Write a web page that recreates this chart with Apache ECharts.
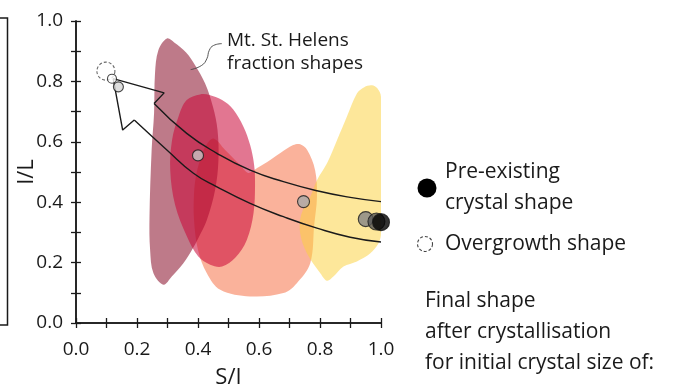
<!DOCTYPE html>
<html>
<head>
<meta charset="utf-8">
<script src="https://cdn.jsdelivr.net/npm/echarts@6/dist/echarts.min.js"></script>
<style>
  html, body { margin: 0; padding: 0; background: #fff; }
  #chart { width: 673px; height: 388px; }
</style>
</head>
<body>
<div id="chart"></div>
<script>
// Axis ticks (S/I on x, I/L on y)
const tickValues = [0.0, 0.2, 0.4, 0.6, 0.8, 1.0];
const tickLabels = ['0.0', '0.2', '0.4', '0.6', '0.8', '1.0'];

// Mt. St. Helens fraction shape fields, outlines as [S/I, I/L]
const fieldMauve = [
  [0.298, 0.942], [0.322, 0.929], [0.361, 0.896], [0.391, 0.853], [0.423, 0.794],
  [0.449, 0.716], [0.464, 0.639], [0.467, 0.539], [0.456, 0.440], [0.429, 0.341],
  [0.401, 0.281], [0.380, 0.242], [0.352, 0.198], [0.314, 0.154], [0.287, 0.127],
  [0.254, 0.165], [0.243, 0.242], [0.241, 0.352], [0.248, 0.573], [0.256, 0.695],
  [0.259, 0.826], [0.270, 0.903]
];
const fieldCrimson = [
  [0.407, 0.757], [0.440, 0.754], [0.479, 0.738], [0.515, 0.708], [0.549, 0.650],
  [0.571, 0.589], [0.584, 0.523], [0.587, 0.457], [0.582, 0.363], [0.560, 0.275],
  [0.522, 0.216], [0.479, 0.187], [0.440, 0.193], [0.401, 0.220], [0.363, 0.288],
  [0.325, 0.391], [0.309, 0.506], [0.315, 0.606], [0.336, 0.683], [0.363, 0.738]
];
const fieldSalmon = [
  [0.451, 0.611], [0.489, 0.573], [0.538, 0.523], [0.565, 0.497], [0.594, 0.513],
  [0.627, 0.533], [0.670, 0.563], [0.712, 0.589], [0.735, 0.592], [0.758, 0.573],
  [0.784, 0.506], [0.790, 0.418], [0.781, 0.325], [0.768, 0.198], [0.724, 0.132],
  [0.680, 0.099], [0.571, 0.088], [0.473, 0.110], [0.429, 0.165], [0.400, 0.242],
  [0.387, 0.341], [0.387, 0.430], [0.394, 0.490], [0.407, 0.540], [0.427, 0.589]
];
const fieldYellow = [
  [0.970, 0.787], [0.988, 0.777], [1.000, 0.748], [1.000, 0.298], [0.992, 0.264],
  [0.965, 0.231], [0.921, 0.204], [0.877, 0.187], [0.844, 0.154], [0.823, 0.140],
  [0.801, 0.165], [0.757, 0.231], [0.735, 0.297], [0.738, 0.358], [0.768, 0.418],
  [0.790, 0.473], [0.823, 0.529], [0.856, 0.606], [0.888, 0.683], [0.921, 0.760],
  [0.945, 0.781]
];

// Growth-path band: upper and lower bounding curves, and the arrow head
const bandUpper = [
  [0.256, 0.727], [0.363, 0.628], [0.462, 0.562], [0.571, 0.506], [0.680, 0.468],
  [0.790, 0.438], [0.899, 0.416], [1.000, 0.402]
];
const bandLower = [
  [0.191, 0.672], [0.298, 0.573], [0.385, 0.496], [0.462, 0.451], [0.571, 0.396],
  [0.680, 0.352], [0.790, 0.314], [0.899, 0.284], [1.000, 0.268]
];
const arrowHead = [
  [0.191, 0.672], [0.153, 0.639], [0.122, 0.809], [0.289, 0.762], [0.256, 0.727]
];

// Leader from the label to the shape fields
const leader = [
  [0.478, 0.925], [0.451, 0.919], [0.437, 0.903], [0.429, 0.875], [0.412, 0.853], [0.376, 0.839]
];

// Final shapes for each initial crystal size, and the overgrowth shape
const finalShapes = [
  [0.118, 0.809], [0.139, 0.782], [0.400, 0.555], [0.746, 0.402],
  [0.950, 0.344], [0.985, 0.336], [1.000, 0.334]
];
const finalSizes = [9, 10, 11, 12, 15, 17, 17];
const finalFills = ['#ffffff', '#d6d6d6', '#c4c4c4', '#a9a9a9', '#858585', '#555555', '#000000'];
const overgrowth = [[0.098, 0.834]];

const FONT = '"Open Sans", "Noto Sans", sans-serif';
const INK = '#1a1a1a';

function field(name, pts, fill, z) {
  return {
    type: 'custom',
    name: name,
    coordinateSystem: 'cartesian2d',
    data: pts,
    clip: true,
    silent: true,
    z: z,
    renderItem: function (params, api) {
      if (params.dataIndex !== 0) return null;
      return {
        type: 'polygon',
        shape: { points: pts.map(function (p) { return api.coord(p); }), smooth: 0.35 },
        style: { fill: fill }
      };
    }
  };
}

function curve(data, smooth, width, color) {
  return {
    type: 'line', data: data, smooth: smooth, symbol: 'none', silent: true, z: 5,
    lineStyle: { color: color || INK, width: width || 1.4 }
  };
}

const tickFmt = function (v) {
  const i = tickValues.findIndex(function (t) { return Math.abs(t - v) < 1e-6; });
  return i >= 0 ? tickLabels[i] : '';
};

const axisCommon = {
  type: 'value', min: 0, max: 1, interval: 0.1,
  axisLine: { show: true, lineStyle: { color: INK, width: 1.5 } },
  axisTick: { show: true, length: 5, lineStyle: { color: INK, width: 1.3 } },
  splitLine: { show: false }
};

const chart = echarts.init(document.getElementById('chart'), null, { renderer: 'canvas' });
chart.setOption({
  animation: false,
  backgroundColor: '#ffffff',
  grid: { left: 76, right: 292, top: 21, bottom: 65, containLabel: false, outerBoundsMode: 'none' },
  xAxis: [
    Object.assign({}, axisCommon, {
      position: 'bottom',
      name: 'S/I', nameLocation: 'middle', nameGap: 44,
      nameTextStyle: { fontFamily: FONT, fontSize: 22, color: INK },
      axisLabel: { formatter: tickFmt, fontFamily: FONT, fontSize: 19, color: INK, margin: 17 }
    }),
    Object.assign({}, axisCommon, { position: 'top', axisLabel: { show: false } })
  ],
  yAxis: [
    Object.assign({}, axisCommon, {
      position: 'left',
      name: 'I/L', nameLocation: 'middle', nameGap: 38, nameRotate: 90, nameMoveOverlap: false,
      nameTextStyle: { fontFamily: FONT, fontSize: 22, color: INK },
      axisLabel: { formatter: tickFmt, fontFamily: FONT, fontSize: 19, color: INK, margin: 13 }
    }),
    Object.assign({}, axisCommon, { position: 'right', axisLabel: { show: false } })
  ],
  series: [
    field('salmon', fieldSalmon, 'rgba(246,115,73,0.55)', 1),
    field('yellow', fieldYellow, 'rgba(251,209,61,0.52)', 1),
    field('mauve', fieldMauve, 'rgba(137,13,40,0.55)', 2),
    field('crimson', fieldCrimson, 'rgba(202,6,55,0.55)', 3),
    curve(bandUpper, true),
    curve(bandLower, true),
    curve(arrowHead, false),
    curve(leader, true, 0.9, '#444'),
    {
      type: 'scatter', clip: false, z: 8, silent: true,
      data: overgrowth,
      symbolSize: 18,
      itemStyle: { color: 'rgba(255,255,255,0)', borderColor: '#444', borderWidth: 1.1, borderType: [3, 2] }
    },
    {
      type: 'scatter', clip: false, z: 9, silent: true,
      data: finalShapes.map(function (p, i) {
        return {
          value: p,
          symbolSize: finalSizes[i],
          itemStyle: { color: finalFills[i], borderColor: '#1a1a1a', borderWidth: 1.1 }
        };
      })
    }
  ],
  graphic: [
    // edge of the neighbouring panel
    { type: 'rect', shape: { x: -10, y: 18, width: 17.5, height: 307 },
      style: { fill: 'none', stroke: INK, lineWidth: 1.5 }, silent: true },
    { type: 'text', left: 227, top: 29,
      style: { text: 'Mt. St. Helens\nfraction shapes', font: '19px ' + FONT, fill: INK, lineHeight: 23 } },
    // key
    { type: 'circle', shape: { cx: 427, cy: 188, r: 9.5 }, style: { fill: '#000' } },
    { type: 'text', left: 445, top: 157,
      style: { text: 'Pre-existing\ncrystal shape', font: '21px ' + FONT, fill: INK, lineHeight: 31 } },
    { type: 'circle', shape: { cx: 425, cy: 244, r: 7.5 },
      style: { fill: '#fff', stroke: '#444', lineWidth: 1.1, lineDash: [3, 2] } },
    { type: 'text', left: 445, top: 234,
      style: { text: 'Overgrowth shape', font: '21px ' + FONT, fill: INK } },
    { type: 'text', left: 425, top: 286,
      style: { text: 'Final shape\nafter crystallisation\nfor initial crystal size of:', font: '21px ' + FONT, fill: INK, lineHeight: 31 } }
  ]
});
</script>
</body>
</html>
